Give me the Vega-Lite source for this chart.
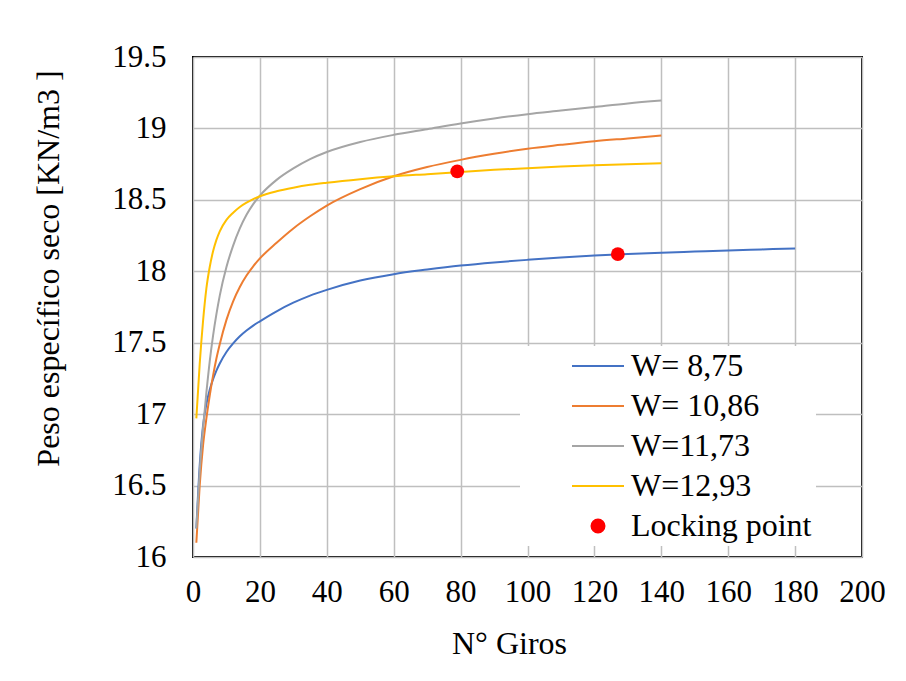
{
  "$schema": "https://vega.github.io/schema/vega-lite/v6.json",
  "width": 669,
  "height": 500,
  "autosize": "none",
  "padding": {"left": 193, "top": 57, "right": 44, "bottom": 124},
  "background": "white",
  "config": {
    "font": "Liberation Serif",
    "view": {"stroke": "black", "strokeWidth": 2},
    "axis": {
      "labelFont": "Liberation Serif",
      "labelFontSize": 31,
      "labelColor": "black",
      "titleFont": "Liberation Serif",
      "titleFontSize": 32,
      "titleFontWeight": "normal",
      "titleColor": "black",
      "ticks": false,
      "domain": false,
      "grid": true,
      "gridColor": "#BFBFBF",
      "gridWidth": 1.5,
      "labelOverlap": false,
      "labelFlush": false
    }
  },
  "datasets": {
    "curvas": [
      {"N": 1, "g": 16.2, "serie": "W= 8,75"},
      {"N": 2, "g": 16.64, "serie": "W= 8,75"},
      {"N": 3, "g": 16.92, "serie": "W= 8,75"},
      {"N": 4, "g": 17.07, "serie": "W= 8,75"},
      {"N": 5, "g": 17.17, "serie": "W= 8,75"},
      {"N": 6, "g": 17.245, "serie": "W= 8,75"},
      {"N": 7, "g": 17.305, "serie": "W= 8,75"},
      {"N": 8, "g": 17.355, "serie": "W= 8,75"},
      {"N": 10, "g": 17.435, "serie": "W= 8,75"},
      {"N": 12, "g": 17.495, "serie": "W= 8,75"},
      {"N": 14, "g": 17.545, "serie": "W= 8,75"},
      {"N": 16, "g": 17.585, "serie": "W= 8,75"},
      {"N": 18, "g": 17.62, "serie": "W= 8,75"},
      {"N": 20, "g": 17.65, "serie": "W= 8,75"},
      {"N": 25, "g": 17.72, "serie": "W= 8,75"},
      {"N": 30, "g": 17.78, "serie": "W= 8,75"},
      {"N": 35, "g": 17.83, "serie": "W= 8,75"},
      {"N": 40, "g": 17.87, "serie": "W= 8,75"},
      {"N": 50, "g": 17.935, "serie": "W= 8,75"},
      {"N": 60, "g": 17.98, "serie": "W= 8,75"},
      {"N": 70, "g": 18.012, "serie": "W= 8,75"},
      {"N": 80, "g": 18.04, "serie": "W= 8,75"},
      {"N": 90, "g": 18.062, "serie": "W= 8,75"},
      {"N": 100, "g": 18.08, "serie": "W= 8,75"},
      {"N": 110, "g": 18.096, "serie": "W= 8,75"},
      {"N": 120, "g": 18.11, "serie": "W= 8,75"},
      {"N": 130, "g": 18.121, "serie": "W= 8,75"},
      {"N": 140, "g": 18.13, "serie": "W= 8,75"},
      {"N": 150, "g": 18.138, "serie": "W= 8,75"},
      {"N": 160, "g": 18.146, "serie": "W= 8,75"},
      {"N": 170, "g": 18.153, "serie": "W= 8,75"},
      {"N": 180, "g": 18.16, "serie": "W= 8,75"},

      {"N": 1, "g": 16.1, "serie": "W= 10,86"},
      {"N": 2, "g": 16.5, "serie": "W= 10,86"},
      {"N": 3, "g": 16.78, "serie": "W= 10,86"},
      {"N": 4, "g": 16.97, "serie": "W= 10,86"},
      {"N": 5, "g": 17.13, "serie": "W= 10,86"},
      {"N": 6, "g": 17.27, "serie": "W= 10,86"},
      {"N": 7, "g": 17.39, "serie": "W= 10,86"},
      {"N": 8, "g": 17.49, "serie": "W= 10,86"},
      {"N": 10, "g": 17.66, "serie": "W= 10,86"},
      {"N": 12, "g": 17.79, "serie": "W= 10,86"},
      {"N": 14, "g": 17.89, "serie": "W= 10,86"},
      {"N": 16, "g": 17.97, "serie": "W= 10,86"},
      {"N": 18, "g": 18.035, "serie": "W= 10,86"},
      {"N": 20, "g": 18.09, "serie": "W= 10,86"},
      {"N": 25, "g": 18.2, "serie": "W= 10,86"},
      {"N": 30, "g": 18.3, "serie": "W= 10,86"},
      {"N": 35, "g": 18.385, "serie": "W= 10,86"},
      {"N": 40, "g": 18.46, "serie": "W= 10,86"},
      {"N": 50, "g": 18.575, "serie": "W= 10,86"},
      {"N": 60, "g": 18.665, "serie": "W= 10,86"},
      {"N": 70, "g": 18.73, "serie": "W= 10,86"},
      {"N": 80, "g": 18.78, "serie": "W= 10,86"},
      {"N": 90, "g": 18.822, "serie": "W= 10,86"},
      {"N": 100, "g": 18.858, "serie": "W= 10,86"},
      {"N": 110, "g": 18.885, "serie": "W= 10,86"},
      {"N": 120, "g": 18.91, "serie": "W= 10,86"},
      {"N": 130, "g": 18.93, "serie": "W= 10,86"},
      {"N": 140, "g": 18.95, "serie": "W= 10,86"},

      {"N": 1, "g": 16.2, "serie": "W=11,73"},
      {"N": 2, "g": 16.6, "serie": "W=11,73"},
      {"N": 3, "g": 16.9, "serie": "W=11,73"},
      {"N": 4, "g": 17.15, "serie": "W=11,73"},
      {"N": 5, "g": 17.37, "serie": "W=11,73"},
      {"N": 6, "g": 17.55, "serie": "W=11,73"},
      {"N": 7, "g": 17.7, "serie": "W=11,73"},
      {"N": 8, "g": 17.83, "serie": "W=11,73"},
      {"N": 10, "g": 18.03, "serie": "W=11,73"},
      {"N": 12, "g": 18.18, "serie": "W=11,73"},
      {"N": 14, "g": 18.3, "serie": "W=11,73"},
      {"N": 16, "g": 18.395, "serie": "W=11,73"},
      {"N": 18, "g": 18.47, "serie": "W=11,73"},
      {"N": 20, "g": 18.53, "serie": "W=11,73"},
      {"N": 25, "g": 18.64, "serie": "W=11,73"},
      {"N": 30, "g": 18.72, "serie": "W=11,73"},
      {"N": 35, "g": 18.785, "serie": "W=11,73"},
      {"N": 40, "g": 18.835, "serie": "W=11,73"},
      {"N": 50, "g": 18.905, "serie": "W=11,73"},
      {"N": 60, "g": 18.955, "serie": "W=11,73"},
      {"N": 70, "g": 18.995, "serie": "W=11,73"},
      {"N": 80, "g": 19.035, "serie": "W=11,73"},
      {"N": 90, "g": 19.07, "serie": "W=11,73"},
      {"N": 100, "g": 19.1, "serie": "W=11,73"},
      {"N": 110, "g": 19.125, "serie": "W=11,73"},
      {"N": 120, "g": 19.15, "serie": "W=11,73"},
      {"N": 130, "g": 19.175, "serie": "W=11,73"},
      {"N": 140, "g": 19.195, "serie": "W=11,73"},

      {"N": 1, "g": 16.97, "serie": "W=12,93"},
      {"N": 2, "g": 17.35, "serie": "W=12,93"},
      {"N": 3, "g": 17.65, "serie": "W=12,93"},
      {"N": 4, "g": 17.88, "serie": "W=12,93"},
      {"N": 5, "g": 18.03, "serie": "W=12,93"},
      {"N": 6, "g": 18.14, "serie": "W=12,93"},
      {"N": 7, "g": 18.22, "serie": "W=12,93"},
      {"N": 8, "g": 18.28, "serie": "W=12,93"},
      {"N": 10, "g": 18.36, "serie": "W=12,93"},
      {"N": 12, "g": 18.41, "serie": "W=12,93"},
      {"N": 14, "g": 18.45, "serie": "W=12,93"},
      {"N": 16, "g": 18.48, "serie": "W=12,93"},
      {"N": 18, "g": 18.505, "serie": "W=12,93"},
      {"N": 20, "g": 18.525, "serie": "W=12,93"},
      {"N": 25, "g": 18.56, "serie": "W=12,93"},
      {"N": 30, "g": 18.585, "serie": "W=12,93"},
      {"N": 35, "g": 18.605, "serie": "W=12,93"},
      {"N": 40, "g": 18.62, "serie": "W=12,93"},
      {"N": 50, "g": 18.645, "serie": "W=12,93"},
      {"N": 60, "g": 18.665, "serie": "W=12,93"},
      {"N": 70, "g": 18.68, "serie": "W=12,93"},
      {"N": 80, "g": 18.695, "serie": "W=12,93"},
      {"N": 90, "g": 18.71, "serie": "W=12,93"},
      {"N": 100, "g": 18.722, "serie": "W=12,93"},
      {"N": 110, "g": 18.733, "serie": "W=12,93"},
      {"N": 120, "g": 18.742, "serie": "W=12,93"},
      {"N": 130, "g": 18.75, "serie": "W=12,93"},
      {"N": 140, "g": 18.756, "serie": "W=12,93"}
    ],
    "locking": [
      {"N": 79, "g": 18.7, "serie": "Locking point"},
      {"N": 127, "g": 18.12, "serie": "Locking point"}
    ]
  },
  "encoding": {
    "x": {
      "field": "N",
      "type": "quantitative",
      "scale": {"domain": [0, 200], "nice": false},
      "axis": {
        "values": [0, 20, 40, 60, 80, 100, 120, 140, 160, 180, 200],
        "labelPadding": 20,
        "title": "N° Giros",
        "titleX": 316,
        "titleY": 96,
        "titleBaseline": "alphabetic",
        "titleAlign": "center"
      }
    },
    "y": {
      "field": "g",
      "type": "quantitative",
      "scale": {"domain": [16, 19.5], "nice": false, "zero": false},
      "axis": {
        "values": [16, 16.5, 17, 17.5, 18, 18.5, 19, 19.5],
        "format": ".1~f",
        "labelPadding": 27,
        "title": "Peso específico seco [KN/m3 ]",
        "titleAngle": -90,
        "titleX": -135,
        "titleY": 211,
        "titleBaseline": "alphabetic",
        "titleAlign": "center"
      }
    },
    "color": {
      "field": "serie",
      "type": "nominal",
      "scale": {
        "domain": ["W= 8,75", "W= 10,86", "W=11,73", "W=12,93", "Locking point"],
        "range": ["#4472C4", "#ED7D31", "#A5A5A5", "#FFC000", "#FF0000"]
      },
      "legend": {
        "title": null,
        "orient": "none",
        "legendX": 327,
        "legendY": 289,
        "padding": 4,
        "fillColor": "white",
        "labelFont": "Liberation Serif",
        "labelFontSize": 32,
        "labelColor": "black",
        "labelLimit": 400,
        "labelOffset": 6,
        "symbolOffset": 47,
        "symbolType": "stroke",
        "symbolSize": 2704,
        "symbolStrokeWidth": 2,
        "clipHeight": 32,
        "rowPadding": 8,
        "encode": {
          "symbols": {
            "update": {
              "shape": {"signal": "datum.value === 'Locking point' ? 'circle' : 'stroke'"},
              "size": {"signal": "datum.value === 'Locking point' ? 169 : 2704"},
              "fill": {"signal": "datum.value === 'Locking point' ? '#FF0000' : 'transparent'"}
            }
          }
        }
      }
    }
  },
  "layer": [
    {
      "data": {"name": "curvas"},
      "mark": {"type": "line", "interpolate": "monotone", "strokeWidth": 2}
    },
    {
      "data": {"name": "locking"},
      "mark": {"type": "point", "filled": true, "size": 190, "opacity": 1}
    }
  ]
}
